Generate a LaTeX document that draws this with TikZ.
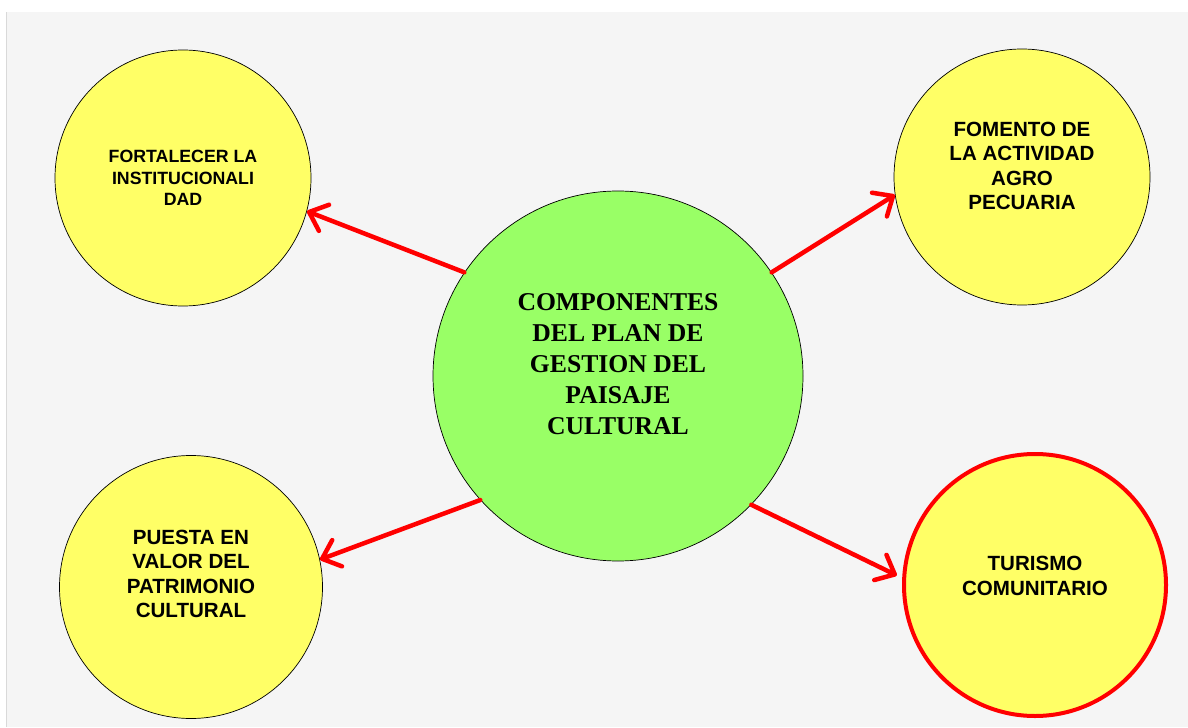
\documentclass[tikz,border=0pt]{standalone}
\usepackage{fontspec}
\setmainfont{Liberation Serif}
\newfontfamily\arialfont{Liberation Sans}
\usetikzlibrary{arrows.meta, positioning}

\definecolor{ballyellow}{HTML}{FFFF66}
\definecolor{ballgreen}{HTML}{99FF66}
\definecolor{pagegray}{HTML}{F5F5F5}

\begin{document}
\begin{tikzpicture}[
		ball/.style={circle, draw=black, thin, fill=ballyellow, inner sep=0pt},
		smalltext/.style={align=center, font=\arialfont\bfseries\fontsize{11.7}{13.8}\selectfont},
		redarrow/.style={draw=red, line width=0.09cm, line cap=round, -{Straight Barb[length=0.32cm, width=0.56cm, round]}}
	]
		\useasboundingbox (0, 0) rectangle (23.76, 14.54);
\fill[white] (0, 0) rectangle (23.76, 14.54);
\fill[pagegray] (0.14, 0) rectangle (23.76, 14.30);
\fill[black!15] (0.12, 0) rectangle (0.14, 14.30);

% the five circles
\node[ball, fill=ballgreen, minimum size=7.4cm] (main) at (12.36, 7.02) {};
\node[ball, minimum size=5.12cm] (tl) at (3.66, 10.98) {};
\node[ball, minimum size=5.12cm] (tr) at (20.44, 11.0) {};
\node[ball, minimum size=5.26cm] (bl) at (3.82, 2.8) {};
\node[ball, draw=red, line width=0.08cm, minimum size=5.24cm] (br) at (20.7, 2.84) {};

% texts
\node[align=center, font=\bfseries\fontsize{14.6}{17.7}\selectfont] (main-text) at ([yshift=0.24cm]main.center)
	{COMPONENTES\\DEL PLAN DE\\GESTION DEL\\PAISAJE\\CULTURAL};
\node[smalltext, font=\arialfont\bfseries\fontsize{10.1}{12.3}\selectfont] (tl-text) at (tl.center)
	{FORTALECER LA\\INSTITUCIONALI\\DAD};
\node[smalltext] (tr-text) at ([yshift=0.22cm]tr.center)
	{FOMENTO DE\\LA ACTIVIDAD\\AGRO\\PECUARIA};
\node[smalltext] (bl-text) at ([yshift=0.26cm]bl.center)
	{PUESTA EN\\VALOR DEL\\PATRIMONIO\\CULTURAL};
\node[smalltext] (br-text) at ([yshift=0.18cm]br.center)
	{TURISMO\\COMUNITARIO};

% arrows
\draw[redarrow] (main.146) -- (tl.-15);
\draw[redarrow] (main.34) -- (tr.-172);
\draw[redarrow] (main.222) -- (bl.12);
\draw[redarrow, shorten >=0.12cm] (main.-44) -- (br.177);
	\end{tikzpicture}
\end{document}
